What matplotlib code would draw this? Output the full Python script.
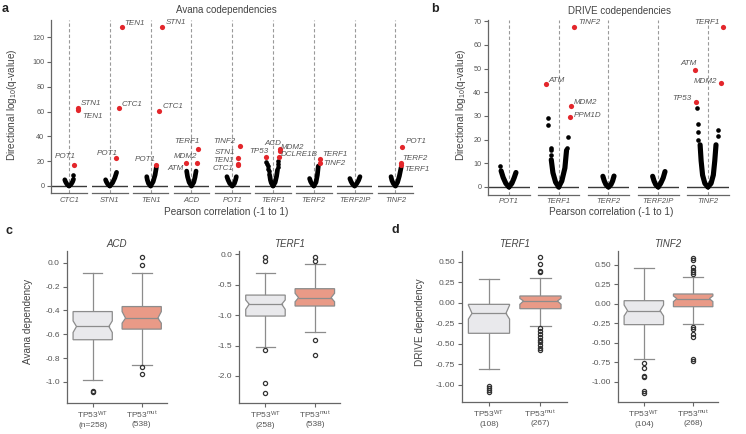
import numpy as np
import matplotlib
matplotlib.use("Agg")
import matplotlib.pyplot as plt

plt.rcParams['font.family'] = ['Liberation Sans', 'DejaVu Sans']
plt.rcParams['mathtext.fontset'] = 'custom'
plt.rcParams['mathtext.rm'] = 'Liberation Sans'
plt.rcParams['mathtext.it'] = 'Liberation Sans:italic'
plt.rcParams['axes.unicode_minus'] = False

RED = "#e3262b"
GREY_TXT = "#555555"
SPINE = "#666666"
BOX_EDGE = "#8c8c8c"
WT_FILL = "#e9e9ec"
MUT_FILL = "#e99a87"

# ---- panel a: Avana codependencies (r, directional -log10 q) ----
a_genes = ["CTC1", "STN1", "TEN1", "ACD", "POT1", "TERF1", "TERF2", "TERF2IP", "TINF2"]
a_left_arm = [
    [(0, 0), (-0.12, 1.5), (-0.2, 3.5), (-0.24, 5)],
    [(0, 0), (-0.12, 1.5), (-0.2, 3.5), (-0.24, 5)],
    [(0, 0), (-0.12, 2), (-0.19, 5), (-0.22, 7.5)],
    [(0, 0), (-0.13, 3), (-0.22, 7.5), (-0.27, 12)],
    [(0, 0), (-0.14, 2), (-0.24, 5), (-0.3, 7.5)],
    [(0, 0), (-0.1, 2.5), (-0.15, 5), (-0.18, 8)],
    [(0, 0), (-0.1, 1.5), (-0.18, 3.5), (-0.24, 6)],
    [(0, 0), (-0.12, 1.5), (-0.2, 3.5), (-0.27, 6)],
    [(0, 0), (-0.12, 2), (-0.2, 4.5), (-0.25, 7.5)],
]
a_right_arm = [
    [(0, 0), (0.12, 1.5), (0.2, 3.5), (0.25, 5.5)],
    [(0, 0), (0.15, 2.5), (0.28, 6.5), (0.38, 11)],
    [(0, 0), (0.14, 3.5), (0.25, 9), (0.32, 15)],
    [(0, 0), (0.13, 3), (0.2, 7), (0.26, 12)],
    [(0, 0), (0.12, 2), (0.19, 5), (0.23, 7.5)],
    [(0, 0), (0.12, 3), (0.2, 8), (0.25, 13)],
    [(0, 0), (0.12, 3), (0.2, 9), (0.25, 16)],
    [(0, 0), (0.12, 2), (0.22, 4.5), (0.3, 7.5)],
    [(0, 0), (0.12, 3), (0.22, 8), (0.32, 15)],
]
a_extra = [
    [(0.22, 9)], [], [], [], [],
    [(-0.21, 10), (-0.24, 12), (-0.27, 14), (-0.3, 16.5), (-0.33, 18), (-0.37, 19.6),
     (0.27, 15.5), (0.29, 18), (0.3, 20.5)],
    [], [], [],
]
a_hits = [
    [("POT1", 0.27, 17), ("STN1", 0.49, 62.5), ("TEN1", 0.48, 61)],
    [("POT1", 0.34, 22.6), ("CTC1", 0.51, 62.6), ("TEN1", 0.66, 128)],
    [("POT1", 0.3, 17.2), ("CTC1", 0.49, 60.7), ("STN1", 0.66, 128)],
    [("ATM", -0.32, 18.3), ("MDM2", 0.3, 18.3), ("TERF1", 0.37, 29.8)],
    [("TINF2", 0.41, 32.2), ("STN1", 0.35, 22.6), ("TEN1", 0.32, 18), ("CTC1", 0.31, 17.2)],
    [("TP53", -0.37, 23.6), ("ACD", 0.38, 30), ("MDM2", 0.38, 28), ("DCLRE1B", 0.36, 23.5)],
    [("TERF1", 0.34, 21.8), ("TINF2", 0.32, 18.8)],
    [],
    [("POT1", 0.39, 31.7), ("TERF2", 0.34, 18.8), ("TERF1", 0.34, 17)],
]

# ---- panel b: DRIVE codependencies ----
b_genes = ["POT1", "TERF1", "TERF2", "TERF2IP", "TINF2"]
b_left_arm = [
    [(0, 0), (-0.15, 1.5), (-0.28, 4), (-0.38, 6.8)],
    [(0, 0), (-0.15, 2), (-0.28, 6), (-0.36, 11.5)],
    [(0, 0), (-0.12, 1), (-0.2, 2.5), (-0.27, 4.5)],
    [(0, 0), (-0.12, 1), (-0.2, 2.5), (-0.27, 4.5)],
    [(0, 0), (-0.15, 1.5), (-0.26, 5), (-0.33, 11), (-0.38, 17.8)],
]
b_right_arm = [
    [(0, 0), (0.14, 1.5), (0.25, 3.8), (0.34, 6.1)],
    [(0, 0), (0.15, 2.5), (0.3, 8), (0.38, 15.5)],
    [(0, 0), (0.12, 1), (0.2, 2.5), (0.27, 4.6)],
    [(0, 0), (0.12, 1.5), (0.24, 3.8), (0.33, 6.5)],
    [(0, 0), (0.15, 1.5), (0.26, 5), (0.33, 11), (0.39, 17.8)],
]
b_extra = [
    [(-0.42, 9)],
    [(-0.38, 13.5), (-0.37, 15.4), (-0.37, 16.5), (-0.52, 26.2), (-0.52, 29), (0.4, 16.5), (0.45, 21.3)],
    [], [],
    [(-0.46, 19.9), (-0.47, 23), (-0.47, 26.5), (-0.55, 33.2), (0.5, 21.6), (0.5, 24.1)],
]
b_hits = [
    [],
    [("ATM", -0.63, 43.6), ("TINF2", 0.74, 67.5), ("MDM2", 0.58, 34.3), ("PPM1D", 0.54, 29.5)],
    [], [],
    [("TP53", -0.59, 36), ("ATM", -0.65, 49.2), ("MDM2", 0.65, 43.8), ("TERF1", 0.75, 67.5)],
]

# label placement (offset in pixels, alignment)
a_label_pos = {
    ("CTC1", "POT1"): (2, 8, "right"), ("CTC1", "STN1"): (3, 5, "left"), ("CTC1", "TEN1"): (5, -6, "left"),
    ("STN1", "POT1"): (2, 4, "right"), ("STN1", "CTC1"): (2.5, 4, "left"), ("STN1", "TEN1"): (3, 4, "left"),
    ("TEN1", "POT1"): (0, 4.7, "right"), ("TEN1", "CTC1"): (3, 4, "left"), ("TEN1", "STN1"): (3.3, 4.6, "left"),
    ("ACD", "ATM"): (-2.3, -5, "right"), ("ACD", "MDM2"): (0.7, 6.6, "right"), ("ACD", "TERF1"): (1.7, 7.3, "right"),
    ("POT1", "TINF2"): (-4, 4.7, "right"), ("POT1", "STN1"): (-2.7, 5.6, "right"),
    ("POT1", "TEN1"): (-4, 3.5, "right"), ("POT1", "CTC1"): (-4, -4, "right"),
    ("TERF1", "TP53"): (1.6, 5, "right"), ("TERF1", "ACD"): (1.7, 5.7, "right"),
    ("TERF1", "MDM2"): (1, 3.6, "left"), ("TERF1", "DCLRE1B"): (1.7, 1.9, "left"),
    ("TERF2", "TERF1"): (2, 4, "left"), ("TERF2", "TINF2"): (3.4, -1.3, "left"),
    ("TINF2", "POT1"): (3, 5, "left"), ("TINF2", "TERF2"): (0.7, 4.4, "left"), ("TINF2", "TERF1"): (2.7, -4.3, "left"),
}
b_label_pos = {
    ("TERF1", "ATM"): (3, 3.4, "left"), ("TERF1", "TINF2"): (4, 4.3, "left"),
    ("TERF1", "MDM2"): (3.3, 3, "left"), ("TERF1", "PPM1D"): (4, 1.6, "left"),
    ("TINF2", "TP53"): (-4, 3, "right"), ("TINF2", "ATM"): (2.4, 7, "right"),
    ("TINF2", "MDM2"): (-3.7, 1.3, "right"), ("TINF2", "TERF1"): (-3.3, 4.3, "right"),
}

# ---- panels c, d: dependency by TP53 status ----
# stats: whisker low, Q1, notch low, median, notch high, Q3, whisker high
box_titles = ["ACD", "TERF1", "TERF1", "TINF2"]
box_wt_stats = [
    [-0.987, -0.646, -0.585, -0.535, -0.488, -0.41, -0.084],
    [-1.53, -1.015, -0.905, -0.82, -0.75, -0.67, -0.30],
    [-0.808, -0.373, -0.2, -0.13, -0.03, -0.02, 0.289],
    [-0.709, -0.265, -0.154, -0.086, -0.013, 0.042, 0.457],
]
box_mut_stats = [
    [-0.855, -0.557, -0.507, -0.465, -0.41, -0.368, -0.089],
    [-1.27, -0.85, -0.78, -0.713, -0.64, -0.565, -0.165],
    [-0.288, -0.073, -0.02, 0.021, 0.053, 0.082, 0.297],
    [-0.26, -0.035, 0.03, 0.068, 0.103, 0.128, 0.35],
]
box_wt_fliers = [
    [-1.073, -1.087],
    [-0.05, -0.105, -1.575, -2.11, -2.275],
    [-1.012, -1.037, -1.065, -1.093],
    [-0.752, -0.817, -0.92, -0.932, -1.115, -1.137],
]
box_mut_fliers = [
    [0.045, -0.019, -0.875, -0.93],
    [-0.05, -0.105, -1.41, -1.656],
    [0.554, 0.472, 0.39, 0.37, -0.31, -0.345, -0.38, -0.415, -0.45, -0.48, -0.515, -0.55, -0.58],
    [0.594, 0.564, 0.47, 0.436, 0.406, 0.38, -0.29, -0.32, -0.39, -0.42, -0.705, -0.727],
]
box_wt_n = ["n=258", "258", "108", "104"]
box_mut_n = ["538", "538", "267", "268"]
box_yticks = [
    [0.0, -0.2, -0.4, -0.6, -0.8, -1.0],
    [0.0, -0.5, -1.0, -1.5, -2.0],
    [0.5, 0.25, 0.0, -0.25, -0.5, -0.75, -1.0],
    [0.5, 0.25, 0.0, -0.25, -0.5, -0.75, -1.0],
]

W, H = 746, 434
fig = plt.figure(figsize=(W / 100, H / 100), dpi=100)


def px_axes(left, top, right, bottom):
    return fig.add_axes([left / W, 1 - bottom / H, (right - left) / W, (bottom - top) / H])


def volcano(genes, left_arms, right_arms, extra, hits, label_pos, x0, step, width,
            top, bottom, ylim, yticks, lw):
    for i, g in enumerate(genes):
        ax = px_axes(x0 + i * step, top, x0 + i * step + width, bottom)
        ax.patch.set_visible(False)  # let hit labels spill over the neighbour group
        ax.set_xlim(-1, 1)
        ax.set_ylim(*ylim)
        ax.axvline(0, color="#9a9a9a", lw=0.8, ls=(0, (3, 2)), zorder=1)
        ax.axhline(0, color="#3a3a3a", lw=1.0, zorder=1)
        for arm in (left_arms[i], right_arms[i]):
            xs, ys = zip(*arm)
            ax.plot(xs, ys, color="k", lw=lw, solid_capstyle="round",
                    solid_joinstyle="round", zorder=3)
        if extra[i]:
            xs, ys = zip(*extra[i])
            ax.scatter(xs, ys, s=11, color="k", lw=0, zorder=3)
        for name, r, q in hits[i]:
            ax.scatter([r], [q], s=14, color=RED, lw=0, zorder=4)
            dx, dy, ha = label_pos[(g, name)]
            ax.annotate(name, (r, q), xytext=(dx, dy), textcoords="offset pixels",
                        ha=ha, va="center", fontsize=5.8, style="italic", color=GREY_TXT,
                        zorder=5)
        for s in ("top", "right"):
            ax.spines[s].set_visible(False)
        ax.spines["bottom"].set_color(SPINE)
        ax.spines["bottom"].set_linewidth(0.9)
        ax.set_xticks([0])
        ax.set_xticklabels([g], style="italic", fontsize=5.5, color=GREY_TXT)
        ax.tick_params(axis="x", length=0, pad=2.5)
        if i == 0:
            ax.spines["left"].set_color(SPINE)
            ax.spines["left"].set_linewidth(0.9)
            ax.set_yticks(yticks)
            ax.tick_params(axis="y", length=3, width=0.8, color=SPINE, labelsize=5.2,
                           labelcolor=GREY_TXT, pad=2)
        else:
            ax.spines["left"].set_visible(False)
            ax.tick_params(axis="y", left=False, labelleft=False)


volcano(a_genes, a_left_arm, a_right_arm, a_extra, a_hits, a_label_pos,
        51.3, 40.8, 35.5, 20, 193.3, (-5.9, 133.8), range(0, 121, 20), 3.4)
volcano(b_genes, b_left_arm, b_right_arm, b_extra, b_hits, b_label_pos,
        488.3, 49.75, 41.3, 20, 195, (-3.4, 70.5), range(0, 71, 10), 3.7)


def notched_box(ax, pos, st, fill):
    lo, q1, cilo, med, cihi, q3, hi = st
    hw, d = 0.4, 0.07
    xs = [pos - hw, pos + hw, pos + hw, pos + hw - d, pos + hw, pos + hw,
          pos - hw, pos - hw, pos - hw + d, pos - hw]
    ys = [q1, q1, cilo, med, cihi, q3, q3, cihi, med, cilo]
    ax.fill(xs, ys, facecolor=fill, edgecolor=BOX_EDGE, lw=0.9, zorder=2)
    ax.plot([pos - hw + d, pos + hw - d], [med, med], color=BOX_EDGE, lw=0.9, zorder=3)
    ax.plot([pos, pos], [q3, hi], color=BOX_EDGE, lw=0.9, zorder=1)
    ax.plot([pos, pos], [lo, q1], color=BOX_EDGE, lw=0.9, zorder=1)
    ax.plot([pos - 0.2, pos + 0.2], [hi, hi], color=BOX_EDGE, lw=0.9)
    ax.plot([pos - 0.2, pos + 0.2], [lo, lo], color=BOX_EDGE, lw=0.9)


box_rects = [(66.7, 250.7, 166.7, 403), (239.3, 250.7, 340, 402.7),
             (461.7, 250.7, 566.7, 401.7), (617.7, 250.7, 718.3, 401.7)]
box_ylims = [(-1.176, 0.1), (-2.44, 0.06), (-1.207, 0.634), (-1.253, 0.683)]
box_fmt = ["%.1f", "%.1f", "%.2f", "%.2f"]

for k in range(4):
    ax = px_axes(*box_rects[k])
    notched_box(ax, 0, box_wt_stats[k], WT_FILL)
    notched_box(ax, 1, box_mut_stats[k], MUT_FILL)
    for pos, fl in ((0, box_wt_fliers[k]), (1, box_mut_fliers[k])):
        ax.plot(np.full(len(fl), pos), fl, "o", ms=3, mfc="none", mec="#333333", mew=0.9, zorder=4)
    ax.set_xlim(-0.53, 1.51)
    ax.set_ylim(*box_ylims[k])
    ax.set_yticks(box_yticks[k])
    ax.set_yticklabels([box_fmt[k] % v for v in box_yticks[k]])
    ax.set_xticks([0, 1])
    ax.set_xticklabels([f"TP53$^{{\\mathrm{{WT}}}}$\n({box_wt_n[k]})",
                        f"TP53$^{{\\mathrm{{mut}}}}$\n({box_mut_n[k]})"], fontsize=6)
    ax.tick_params(length=3, width=0.8, color=SPINE, labelsize=6, labelcolor=GREY_TXT, pad=2)
    for s in ("top", "right"):
        ax.spines[s].set_visible(False)
    for s in ("left", "bottom"):
        ax.spines[s].set_color(SPINE)
        ax.spines[s].set_linewidth(0.9)
    ax.set_title(box_titles[k], style="italic", fontsize=7, color="#444444", pad=3)

# titles, axis labels, panel letters
fig.text(226 / W, 1 - 10 / H, "Avana codependencies", ha="center", va="center", fontsize=7, color="#444444")
fig.text(619.5 / W, 1 - 10.5 / H, "DRIVE codependencies", ha="center", va="center", fontsize=7, color="#444444")
fig.text(226 / W, 1 - 212 / H, "Pearson correlation (-1 to 1)", ha="center", va="center", fontsize=7.2, color="#444444")
fig.text(611 / W, 1 - 212 / H, "Pearson correlation (-1 to 1)", ha="center", va="center", fontsize=7.2, color="#444444")
fig.text(12 / W, 1 - 105 / H, "Directional log$_{10}$(q-value)", rotation=90, ha="center", va="center",
         fontsize=7.2, color="#444444")
fig.text(461 / W, 1 - 105 / H, "Directional log$_{10}$(q-value)", rotation=90, ha="center", va="center",
         fontsize=7.2, color="#444444")
fig.text(28.3 / W, 1 - 321.7 / H, "Avana dependency", rotation=90, ha="center", va="center",
         fontsize=7.2, color="#444444")
fig.text(420 / W, 1 - 321.7 / H, "DRIVE dependency", rotation=90, ha="center", va="center",
         fontsize=7.2, color="#444444")
for letter, x, y in (("a", 5.5, 8.5), ("b", 435, 8.5), ("c", 9.5, 231), ("d", 395, 230)):
    fig.text(x / W, 1 - y / H, letter, ha="center", va="center", fontsize=9, fontweight="bold", color="#222222")

fig.savefig("out.png", dpi=100)
